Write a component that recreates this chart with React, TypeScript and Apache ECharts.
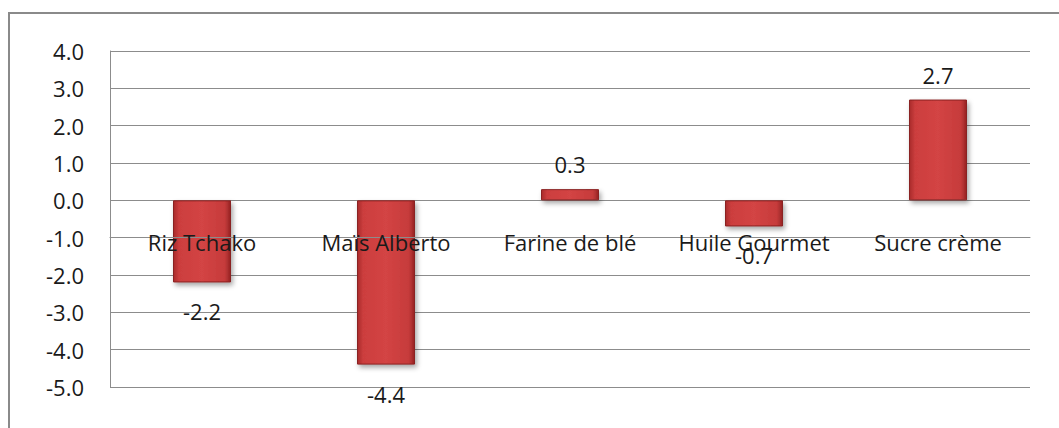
import React, { useEffect, useRef } from "react";
import * as echarts from "echarts";

const categories = ["Riz Tchako", "Maïs Alberto", "Farine de blé", "Huile Gourmet", "Sucre crème"];
const values = [-2.2, -4.4, 0.3, -0.7, 2.7];
const yMin = -5;
const yMax = 4;
const yInterval = 1;

const FONT = "'Open Sans', 'Noto Sans', sans-serif";

export default function App() {
  const ref = useRef<HTMLDivElement>(null);
  useEffect(() => {
    if (!ref.current) return;
    const chart = echarts.init(ref.current, undefined, { renderer: "svg" });
    const barColor = new echarts.graphic.LinearGradient(0, 0, 1, 0, [
      { offset: 0, color: "#a92c2c" },
      { offset: 0.1, color: "#cc3e3e" },
      { offset: 0.5, color: "#d34444" },
      { offset: 0.9, color: "#c63b3b" },
      { offset: 1, color: "#962424" },
    ]);
    chart.setOption({
      animation: false,
      backgroundColor: "#ffffff",
      graphic: [
        {
          type: "rect",
          shape: { x: 9, y: 13, width: 1200, height: 600 },
          style: { fill: "none", stroke: "#8a8a8a", lineWidth: 2 },
          silent: true,
        },
      ],
      grid: { left: 110, right: 29, top: 51, bottom: 41, outerBoundsMode: "none", containLabel: false },
      xAxis: {
        type: "category",
        data: categories,
        axisLine: { show: true, onZero: true, lineStyle: { color: "#8c8c8c", width: 1 } },
        axisTick: { show: false },
        axisLabel: { color: "#1a1a1a", fontFamily: FONT, fontSize: 22, margin: 31, interval: 0 },
        z: 10,
      },
      yAxis: {
        type: "value",
        min: yMin,
        max: yMax,
        interval: yInterval,
        axisLine: { show: true, lineStyle: { color: "#8c8c8c", width: 1 } },
        axisTick: { show: false },
        splitLine: { show: true, lineStyle: { color: "#8c8c8c", width: 1 } },
        axisLabel: {
          color: "#1a1a1a",
          fontFamily: FONT,
          fontSize: 22,
          margin: 26,
          formatter: (v: number) => v.toFixed(1),
        },
      },
      series: [
        {
          type: "bar",
          barWidth: 58,
          z: 3,
          data: values.map((v) => ({
            value: v,
            label: {
              show: true,
              position: v >= 0 ? "top" : "bottom",
              distance: v >= 0 ? 14 : 18,
              color: "#1a1a1a",
              fontFamily: FONT,
              fontSize: 22,
              formatter: (p: any) => Number(p.value).toFixed(1),
            },
          })),
          itemStyle: {
            color: barColor,
            borderColor: "#8a2020",
            borderWidth: 1,
            shadowColor: "rgba(0,0,0,0.35)",
            shadowBlur: 5,
            shadowOffsetX: 2,
            shadowOffsetY: 3,
          },
        },
      ],
    });
    // place the category axis on the zero line, computed through the value scale
    const y0 = chart.convertToPixel({ yAxisIndex: 0 }, 0) as number;
    const yBottom = chart.convertToPixel({ yAxisIndex: 0 }, yMin) as number;
    if (Math.abs(yBottom - y0) > 1) {
      chart.setOption({ xAxis: { offset: y0 - yBottom } });
    }
    return () => chart.dispose();
  }, []);
  return (
    <div
      ref={ref}
      style={{ position: "fixed", left: 0, top: 0, width: 1059, height: 428 }}
    />
  );
}
